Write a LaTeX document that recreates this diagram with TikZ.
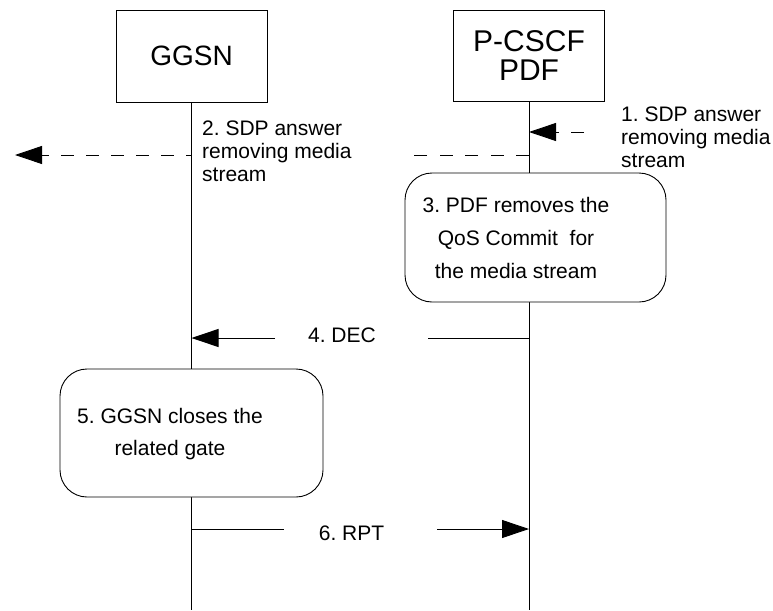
\documentclass[tikz,border=0pt]{standalone}
\usepackage{fontspec}
\setmainfont{Liberation Sans}
\usetikzlibrary{arrows.meta}
\frenchspacing
\begin{document}
\begin{tikzpicture}[x=1pt,y=-1pt,
  ent/.style={draw, line width=0.9pt, fill=white, inner sep=0pt},
  act/.style={draw, line width=0.9pt, fill=white, rounded corners=27pt, inner sep=0pt},
  lifeline/.style={line width=0.9pt},
  msg/.style={line width=0.9pt, -{Triangle[length=27pt,width=18pt]}},
  msgline/.style={line width=0.9pt},
  dsh/.style={dash pattern=on 13pt off 12.5pt},
  lbl/.style={font=\fontsize{21}{23}\selectfont, inner sep=0pt, align=left}
]
\useasboundingbox (0,0) rectangle (773,610);
% entities
\node[ent, minimum width=151pt, minimum height=92pt, font=\fontsize{28}{30}\selectfont] (ggsn) at (191.5,56) {GGSN};
\node[ent, minimum width=151pt, minimum height=91pt, font=\fontsize{30}{29}\selectfont, align=center] (pcscf) at (529,55.5) {P-CSCF\\PDF};
% lifelines
\coordinate (gend) at (191.5,610);
\coordinate (pend) at (529,610);
\draw[lifeline] (ggsn.south) -- (gend);
\draw[lifeline] (pcscf.south) -- (pend);
% activity boxes
\node[act, minimum width=261pt, minimum height=129pt] (act3) at (535.5,237.5) {};
\node[lbl, align=center, font=\fontsize{21}{33}\selectfont] (t3) at (516,238) {3. PDF removes the\\QoS Commit\ \ for\\the media stream};
\node[act, minimum width=263pt, minimum height=128pt] (act5) at (191.5,433) {};
\node[lbl, align=center, font=\fontsize{21}{32}\selectfont] (t5) at (170,434) {5. GGSN closes the\\related gate};
% labels
\node[lbl, anchor=north west] (l1) at (621,107) {1. SDP answer\\removing media\\stream};
\node[lbl, anchor=north west] (l2) at (202,121) {2. SDP answer\\removing media\\stream};
% message 1
\coordinate (m1s) at (584,132);
\draw[msg, dsh] (m1s) -- (pcscf.south |- m1s);
% message 2
\coordinate (m2l) at (15,155);
\coordinate (m2r) at (412,155);
\draw[msgline, dsh] (pcscf.south |- m2r) -- (m2r);
\draw[msg, dash pattern=on 13pt off 12pt, dash phase=7pt] (ggsn.south |- m2l) -- (m2l);
% message 4
\coordinate (m4a) at (428,338);
\coordinate (m4b) at (275,338);
\draw[msgline] (pcscf.south |- m4a) -- (m4a);
\draw[msg] (m4b) -- (ggsn.south |- m4b);
\node[lbl] (l4) at (342,335.5) {4. DEC};
% message 6
\coordinate (m6a) at (284,529);
\coordinate (m6b) at (437,529);
\draw[msgline] (ggsn.south |- m6a) -- (m6a);
\draw[msg] (m6b) -- (pcscf.south |- m6b);
\node[lbl] (l6) at (351.5,533.5) {6. RPT};
\end{tikzpicture}
\end{document}
